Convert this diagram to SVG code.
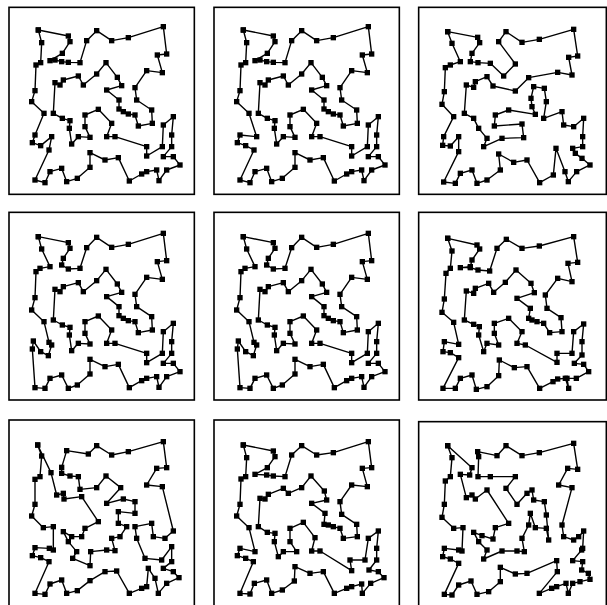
<svg xmlns="http://www.w3.org/2000/svg" width="607" height="605" viewBox="0 0 607 605">
<style>
.frame{fill:none;stroke:#000;stroke-width:4.8}
.tour{fill:none;stroke:#000;stroke-width:4.2;stroke-linejoin:round;marker-start:url(#n);marker-mid:url(#n);marker-end:url(#n)}
</style>
<defs>
<marker id="n" markerUnits="userSpaceOnUse" markerWidth="16" markerHeight="16" refX="8" refY="8" viewBox="0 0 16 16" overflow="visible"><rect width="16" height="16" fill="#000"/></marker>
</defs>
<rect width="607" height="605" fill="#fff"/>
<g id="panel1" transform="translate(0,0) scale(0.33333)">
<rect class="frame" x="27" y="22" width="556" height="561"/>
<polygon class="tour" points="115,90 205,108 210,125 187,160 150,182 165,180 185,185 205,187 240,188 260,122 290,92 335,122 385,113 490,80 500,162 472,165 487,218 440,212 405,263 410,300 455,330 457,370 415,378 405,345 385,342 370,335 357,327 357,300 320,270 365,257 352,232 318,188 290,222 250,255 235,228 190,240 180,255 165,248 160,340 187,355 210,362 208,385 215,432 235,410 270,412 255,380 255,345 295,328 335,370 320,410 345,410 440,440 440,468 487,440 490,375 520,350 515,405 515,440 490,470 520,470 540,495 500,510 477,542 470,510 440,515 425,522 388,543 355,473 315,480 270,458 270,502 232,535 200,545 185,505 150,515 135,548 105,540 147,450 155,410 122,437 97,428 105,405 132,340 95,305 105,272 108,195 122,188 125,128"/>
</g>
<g id="panel2" transform="translate(205,0) scale(0.33333)">
<rect class="frame" x="27" y="22" width="556" height="561"/>
<polygon class="tour" points="115,90 205,108 210,125 187,160 150,182 165,180 185,185 205,187 240,188 260,122 290,92 335,122 385,113 490,80 500,162 472,165 487,218 440,212 405,263 410,300 455,330 457,370 415,378 405,345 385,342 370,335 357,327 357,300 320,270 365,257 352,232 318,188 290,222 250,255 235,228 190,240 180,255 165,248 160,340 187,355 210,362 208,385 215,432 235,410 270,412 255,380 255,345 295,328 335,370 320,410 345,410 440,440 440,468 487,440 490,375 520,350 515,405 515,440 490,470 520,470 540,495 500,510 477,542 470,510 440,515 425,522 388,543 355,473 315,480 270,458 270,502 232,535 200,545 185,505 150,515 135,548 105,540 147,450 122,437 97,428 105,405 155,410 132,340 95,305 105,272 108,195 122,188 125,128"/>
</g>
<g id="panel3" transform="translate(407,0) scale(0.33333)">
<rect class="frame" x="35" y="22" width="563" height="561"/>
<polygon class="tour" points="122,95 212,112 218,128 195,160 190,185 213,188 250,190 290,228 325,192 275,125 297,95 345,127 397,118 500,88 512,168 485,172 495,225 452,217 365,233 325,273 258,258 240,230 205,245 200,262 178,255 172,340 200,355 215,385 240,415 230,440 285,415 350,413 345,372 262,378 265,345 305,330 385,343 375,320 372,295 380,260 412,265 418,305 410,355 465,335 470,375 500,380 530,355 527,410 527,440 497,445 505,460 525,475 549,495 509,515 484,545 474,515 447,445 439,525 398,548 360,480 320,487 275,462 280,510 240,540 210,550 195,510 160,520 145,550 110,546 155,455 155,410 130,438 107,436 110,410 140,350 105,313 112,275 115,203 130,195 160,185 135,130"/>
</g>
<g id="panel4" transform="translate(0,205) scale(0.33333)">
<rect class="frame" x="27" y="22" width="556" height="563"/>
<polygon class="tour" points="115,95 205,113 210,130 190,160 185,180 205,192 240,190 260,128 290,97 335,127 385,118 490,85 500,167 472,170 487,223 440,217 405,268 410,305 455,335 457,375 415,383 405,350 385,347 370,340 357,332 357,305 320,275 365,262 352,237 318,193 290,227 250,260 235,233 190,245 180,260 165,253 160,345 187,360 210,367 208,390 215,437 235,415 270,417 255,385 255,350 295,333 335,375 320,415 345,415 440,445 440,473 487,445 490,380 520,355 515,410 515,445 490,475 520,475 540,500 500,515 477,547 470,515 440,520 425,527 388,548 355,478 315,485 270,463 270,507 232,540 205,550 185,510 150,520 135,550 105,548 97,432 100,408 122,440 145,452 155,420 147,412 132,350 95,315 105,278 108,200 120,190 150,185 125,132"/>
</g>
<g id="panel5" transform="translate(205,205) scale(0.33333)">
<rect class="frame" x="27" y="22" width="556" height="563"/>
<polygon class="tour" points="115,95 205,113 210,130 190,160 185,180 205,192 240,190 260,128 290,97 335,127 385,118 490,85 500,167 472,170 487,223 440,217 405,268 410,305 455,335 457,375 415,383 405,350 385,347 370,340 357,332 357,305 320,275 365,262 352,237 318,193 290,227 250,260 235,233 190,245 180,260 165,253 160,345 187,360 210,367 208,390 215,437 235,415 270,417 255,385 255,350 295,333 335,375 320,415 345,415 440,445 440,473 487,445 490,380 520,355 515,410 515,445 490,475 520,475 540,500 500,515 477,547 470,515 440,520 425,527 388,548 355,478 315,485 270,463 270,507 232,540 205,550 185,510 150,520 135,550 105,548 97,432 100,408 122,440 145,452 155,420 147,412 132,350 95,315 105,278 108,200 120,190 150,185 125,132"/>
</g>
<g id="panel6" transform="translate(407,205) scale(0.33333)">
<rect class="frame" x="35" y="22" width="563" height="563"/>
<polygon class="tour" points="122,100 210,120 218,132 195,165 190,185 160,188 190,188 213,195 248,198 270,130 298,103 345,130 397,123 500,95 512,172 483,175 495,230 452,220 415,270 420,310 462,338 465,380 428,383 410,355 390,350 375,345 365,340 370,310 330,280 382,263 372,235 327,195 295,232 260,262 245,235 205,250 200,265 178,258 172,345 200,358 217,365 215,390 230,440 240,415 275,420 262,385 262,355 305,340 345,380 330,415 355,420 450,472 450,445 495,445 500,380 530,357 525,410 525,450 502,475 530,478 545,500 508,520 480,520 485,550 475,520 452,522 438,530 398,550 360,485 322,488 277,465 275,512 240,545 208,553 195,510 160,520 145,550 108,550 155,458 130,443 108,440 112,410 155,418 140,352 105,322 112,282 117,205 130,190 135,138"/>
</g>
<g id="panel7" transform="translate(0,405) scale(0.33333)">
<rect class="frame" x="27" y="45" width="556" height="600"/>
<polygon class="tour" points="113,120 153,203 170,270 190,265 192,282 245,275 295,350 255,370 245,395 215,395 190,380 205,410 230,440 218,460 270,482 272,440 320,435 345,437 335,400 360,395 380,365 355,355 355,320 405,325 405,290 370,282 320,295 362,248 318,213 290,248 240,253 235,215 210,213 185,205 185,187 200,137 265,147 290,122 335,150 385,140 490,110 500,188 470,190 440,240 487,245 520,378 495,400 460,395 455,355 405,365 410,400 435,460 485,465 515,425 515,470 490,490 520,500 537,518 500,535 475,565 465,520 445,490 440,545 425,550 388,565 350,498 315,500 270,527 232,557 200,565 185,525 150,537 135,568 105,565 147,470 122,458 97,452 105,428 148,430 160,435 160,365 130,368 95,333 105,298 105,223 120,215 125,153"/>
</g>
<g id="panel8" transform="translate(205,405) scale(0.33333)">
<rect class="frame" x="27" y="45" width="556" height="600"/>
<polygon class="tour" points="115,120 205,138 210,155 187,188 150,208 185,210 205,213 240,215 260,150 290,122 335,150 385,143 490,110 500,188 472,190 487,245 440,240 405,290 410,328 455,358 457,395 415,400 405,370 385,365 370,360 357,358 360,325 320,295 365,285 358,258 318,213 290,248 250,265 235,250 190,268 180,282 165,280 160,365 187,382 210,385 208,410 220,455 235,440 275,440 255,410 255,370 295,352 330,398 320,438 345,438 440,497 435,465 480,465 490,400 520,378 515,430 515,465 492,495 520,500 537,518 497,535 472,565 470,537 440,545 425,550 388,565 355,500 315,505 270,485 268,528 232,555 200,565 185,525 148,535 135,567 105,565 145,470 122,460 97,452 105,430 150,440 132,368 95,333 105,298 108,222 122,215 125,158"/>
</g>
<g id="panel9" transform="translate(407,405) scale(0.33333)">
<rect class="frame" x="35" y="50" width="563" height="600"/>
<polygon class="tour" points="122,122 195,188 188,210 160,208 178,278 195,270 205,282 240,255 305,355 265,368 258,402 225,392 200,382 215,410 240,435 230,462 285,438 330,438 352,440 345,400 365,360 370,325 385,368 418,370 425,405 418,330 412,290 380,285 375,255 360,265 330,298 297,250 325,215 250,215 213,215 215,155 212,140 270,152 297,122 345,152 397,143 500,115 512,193 482,190 455,240 495,248 465,360 470,395 500,405 515,395 530,378 527,430 524,435 497,467 527,470 524,495 544,505 549,523 519,530 497,535 484,565 477,535 449,545 434,550 397,565 451,500 449,467 360,505 325,507 280,487 280,530 245,560 210,568 192,528 155,540 135,570 112,568 155,475 130,462 107,455 112,430 155,435 165,438 168,368 140,370 105,337 112,298 115,228 130,215 135,158"/>
</g>
</svg>
